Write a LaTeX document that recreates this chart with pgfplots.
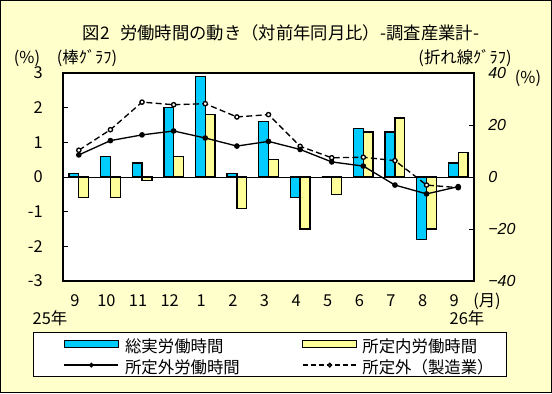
\documentclass[border=0pt]{standalone}
\usepackage{fontspec}
\setmainfont{Noto Sans CJK JP}
\newfontfamily\numfont{Liberation Sans}
\usepackage{pgfplots}
\pgfplotsset{compat=1.18}
\definecolor{bgyel}{HTML}{FFFFCC}
\definecolor{barblue}{HTML}{00CCFF}
\definecolor{baryel}{HTML}{FFFF99}
\pgfplotsset{
 barlegA/.style={legend image code/.code={\path[draw=none,fill=none] (-23.25pt,0pt) -- (0pt,0pt); \draw[##1] (0pt,-2.6pt) rectangle (40.5pt,2.6pt);}},
 barlegB/.style={legend image code/.code={\draw[##1] (0pt,-2.6pt) rectangle (40.5pt,2.6pt);}},
 linelegA/.style={legend image code/.code={\path[draw=none,fill=none] (-23.25pt,0pt) -- (0pt,0pt); \draw[mark repeat=2,mark phase=2,##1] plot coordinates {(0pt,0pt) (20.25pt,0pt) (40.5pt,0pt)};}},
 linelegB/.style={legend image code/.code={\draw[mark repeat=2,mark phase=2,##1] plot coordinates {(0pt,0pt) (20.25pt,0pt) (40.5pt,0pt)};}},
}
\newcommand{\lgtext}[3]{\makebox[#1][l]{\rule[-4.7pt]{0pt}{18.75pt}\hspace{#2}#3}}
\begin{document}
\fontsize{12.3}{14}\selectfont
\begin{tikzpicture}[x=0.75pt,y=0.75pt]
\fill[bgyel] (0,0) rectangle (552,393);
\draw[black, line width=0.75pt] (0.5,0.5) rectangle (551.5,392.5);

\begin{axis}[
 at={(47.25pt,84pt)}, anchor=south west, scale only axis,
 width=308.25pt, height=156pt,
 xmin=-0.5, xmax=12.5, ymin=-3, ymax=3,
 axis background/.style={fill=white},
 axis line style={line width=1pt},
 tick align=inside, ytick pos=left, xtick pos=bottom,
 xtick={0,...,12}, xticklabels={9,10,11,12,1,2,3,4,5,6,7,8,9},
 x tick style={draw=none},
 ytick={-3,-2,-1,0,1,2,3}, yticklabels={-3,-2,-1,0,1,2,3},
 major tick length=4pt,
 y tick style={black, line width=0.6pt},
 xticklabel style={anchor=center, inner sep=0pt, xshift=-3pt, yshift=-15pt},
 yticklabel style={anchor=east, inner sep=0pt, xshift=-15pt},
]
\draw[black, line width=0.6pt] (axis cs:-0.5,0) -- (axis cs:12.5,0);
\addplot[ybar, bar width=0.31, bar shift=-0.155, fill=barblue, draw=black, line width=1pt] coordinates {
 (0,0.1) (1,0.6) (2,0.4) (3,2.0) (4,2.9) (5,0.1) (6,1.6) (7,-0.6) (8,0.0) (9,1.4) (10,1.3) (11,-1.8) (12,0.4)};
\addplot[ybar, bar width=0.31, bar shift=0.155, fill=baryel, draw=black, line width=1pt] coordinates {
 (0,-0.6) (1,-0.6) (2,-0.1) (3,0.6) (4,1.8) (5,-0.9) (6,0.5) (7,-1.5) (8,-0.5) (9,1.3) (10,1.7) (11,-1.5) (12,0.7)};
\end{axis}

\begin{axis}[
 at={(47.25pt,84pt)}, anchor=south west, scale only axis,
 width=308.25pt, height=156pt,
 xmin=-0.5, xmax=12.5, ymin=-40, ymax=40,
 axis line style={draw=none},
 xtick=\empty,
 tick align=inside, ytick pos=right,
 ytick={-40,-20,0,20,40}, yticklabels={−40,−20,0,20,40},
 major tick length=4pt,
 y tick style={black, line width=0.6pt},
 yticklabel style={anchor=west, inner sep=0pt, xshift=10.5pt, font=\numfont\itshape\fontsize{12}{14}\selectfont},
 legend columns=2, legend cell align=left,
 legend style={at={(-0.073,-0.245)}, anchor=north west, draw=black, line width=0.6pt, fill=white,
   inner xsep=0pt, inner ysep=0.75pt, column sep=0pt, row sep=0pt, nodes={inner sep=0pt},
   font=\fontsize{12.3}{14}\selectfont},
]
\addlegendimage{barlegA, fill=barblue, draw=black, line width=1pt}
\addlegendentry{\lgtext{137.25pt}{4.5pt}{総実労働時間}}
\addlegendimage{barlegB, fill=baryel, draw=black, line width=1pt}
\addlegendentry{\lgtext{111.75pt}{3.75pt}{所定内労働時間}}
\addlegendimage{linelegA, black, line width=1pt, mark=*, mark size=1.3pt}
\addlegendentry{\lgtext{137.25pt}{4.5pt}{所定外労働時間}}
\addlegendimage{linelegB, black, line width=1pt, dash pattern=on 3.75pt off 2.25pt, mark=*, mark size=1.3pt, mark options={solid, fill=gray}}
\addlegendentry{\lgtext{111.75pt}{3.75pt}{所定外（製造業）}}

\addplot[forget plot, black, line width=1pt, dash pattern=on 4.5pt off 2.5pt, mark=*, mark size=1.6pt, mark options={solid, fill=white}] coordinates {
 (0,10.3) (1,18.2) (2,28.8) (3,27.8) (4,28.2) (5,23.1) (6,24.0) (7,11.8) (8,7.4) (9,7.6) (10,6.3) (11,-3.1) (12,-4.1)};
\addplot[forget plot, black, line width=1pt, mark=*, mark size=1.6pt] coordinates {
 (0,8.5) (1,14.0) (2,16.2) (3,17.7) (4,15.0) (5,11.9) (6,13.7) (7,10.6) (8,5.8) (9,4.2) (10,-3.1) (11,-6.5) (12,-3.7)};
\end{axis}

\node at (281,360) {\fontsize{13}{14}\selectfont 図2\hspace{0.6em}労働時間の動き（対前年同月比）-調査産業計-};
\node at (27,335) {(\%)};
\node at (87,335) {(棒ｸﾞﾗﾌ)};
\node at (465,335) {(折れ線ｸﾞﾗﾌ)};
\node at (528,315) {(\%)};
\node at (487,92) {(月)};
\node at (50,75) {25年};
\node at (467,75) {26年};
\end{tikzpicture}
\end{document}
